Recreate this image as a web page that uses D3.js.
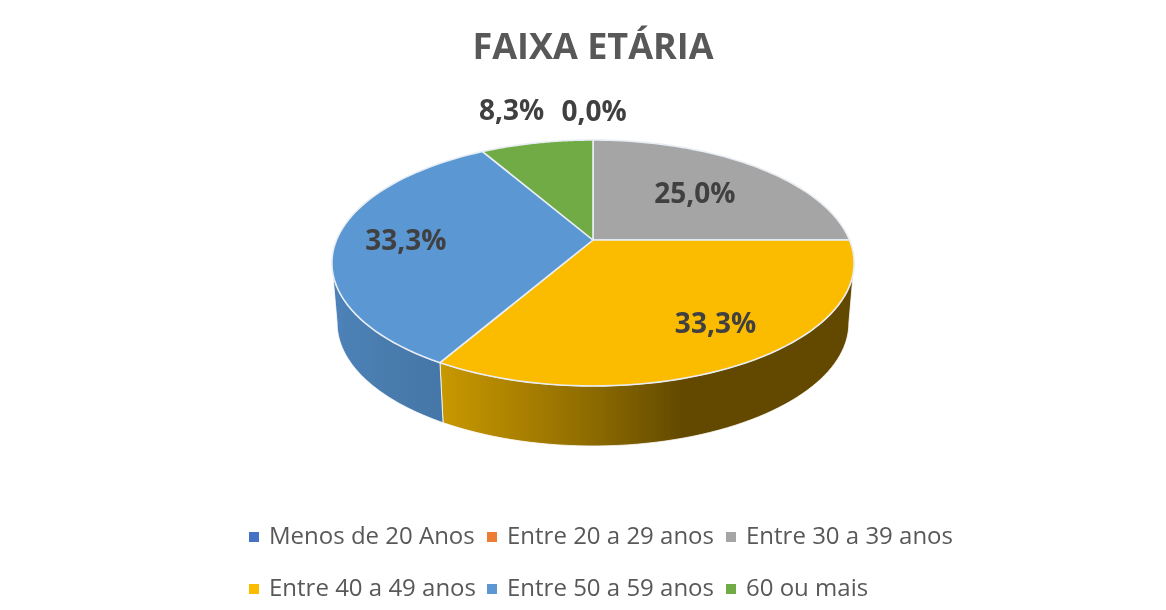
<!DOCTYPE html>
<html>
<head>
<meta charset="utf-8">
<script src="https://cdnjs.cloudflare.com/ajax/libs/d3/7.8.5/d3.min.js"></script>
<style>
  html, body { margin: 0; padding: 0; background: #fff; }
  svg { display: block; }
  text { font-family: "Open Sans", "Noto Sans", sans-serif; }
</style>
</head>
<body>
<div id="chart"></div>
<script>
var title = "FAIXA ETÁRIA";
var categories = ["Menos de 20 Anos", "Entre 20 a 29 anos", "Entre 30 a 39 anos",
                  "Entre 40 a 49 anos", "Entre 50 a 59 anos", "60 ou mais"];
var values = [0, 0, 3, 4, 4, 1];
var valueLabels = ["", "0,0%", "25,0%", "33,3%", "33,3%", "8,3%"];
var colors = ["#4472c4", "#ed7d31", "#a5a5a5", "#fbbc00", "#5a97d3", "#70ab45"];

var w = 1166, h = 610;
var cx = 593, cy = 240;
// tilted disc: horizontal radius, vertical radius, perspective strength
var rx = 256.5, ry = 118.7, persp = 0.187;
var depth = 60;

var svg = d3.select("#chart").append("svg").attr("width", w).attr("height", h);
var defs = svg.append("defs");

// the picture is slightly soft
defs.append("filter").attr("id", "soft")
    .append("feGaussianBlur").attr("stdDeviation", 0.7);

function sideGradient(id, stops) {
    var g = defs.append("linearGradient").attr("id", id)
        .attr("gradientUnits", "userSpaceOnUse")
        .attr("x1", 333).attr("x2", 854).attr("y1", 0).attr("y2", 0);
    stops.forEach(function(s) {
        g.append("stop").attr("offset", s[0]).attr("stop-color", s[1]);
    });
}
sideGradient("sideYellow", [[0.21, "#c89800"], [0.49, "#8f6c00"], [0.67, "#634a00"], [1, "#634a00"]]);
sideGradient("sideBlue", [[0, "#4d82b8"], [0.1, "#4a7cae"], [0.21, "#4476a8"]]);

var pie = d3.pie().value(function(d) { return d; }).sort(null);
var arcs = pie(values);

// angle is clockwise from the top, r is a fraction of the radius
function project(angle, r, drop, shrink) {
    var u = Math.sin(angle) * r, v = -Math.cos(angle) * r;
    var k = 1 - persp * v;
    return [cx + rx * (shrink || 1) * u / k, cy + ry * v / k + (drop || 0)];
}

var line = d3.line();

function rimPoints(a0, a1, r, drop, shrink) {
    return d3.range(0, 61).map(function(i) {
        return project(a0 + (a1 - a0) * i / 60, r, drop, shrink);
    });
}

var pieG = svg.append("g").attr("filter", "url(#soft)");

// side wall starts where the disc is widest on screen
var rimShrink = 0.98;
var widest = Math.asin(persp);
var sides = [
    { a0: Math.PI / 2 + widest, a1: arcs[3].endAngle, fill: "url(#sideYellow)" },
    { a0: arcs[4].startAngle, a1: 3 * Math.PI / 2 - widest, fill: "url(#sideBlue)" }
];
pieG.selectAll("path.side").data(sides).enter().append("path")
    .attr("class", "side")
    .attr("fill", function(d) { return d.fill; })
    .attr("stroke", "#fff").attr("stroke-width", 0.8)
    .attr("d", function(d) {
        var top = rimPoints(d.a0, d.a1, 1);
        var bottom = rimPoints(d.a0, d.a1, 1, depth, rimShrink).reverse();
        return line(top.concat(bottom)) + "Z";
    });

// top face
pieG.selectAll("path.slice").data(arcs.filter(function(d) { return d.value > 0; }))
    .enter().append("path")
    .attr("class", "slice")
    .attr("fill", function(d) { return colors[d.index]; })
    .attr("stroke", "#e8eef4").attr("stroke-width", 1.6).attr("stroke-linejoin", "round")
    .attr("d", function(d) {
        return line([[cx, cy]].concat(rimPoints(d.startAngle, d.endAngle, 1))) + "Z";
    });

var textG = svg.append("g").attr("filter", "url(#soft)");

textG.append("text")
    .attr("x", cx).attr("y", 59)
    .attr("text-anchor", "middle")
    .attr("font-size", 36).attr("font-weight", 700).attr("fill", "#595959")
    .text(title);

// data labels, radius of each as a fraction of the pie radius, then a small nudge
var labelRadius = [0, 1.36, 0.6, 0.78, 0.73, 1.43];
var labelShift = [[0, 0], [1, 0], [1, 0], [8, -9], [0, 0], [-6, 0]];
textG.selectAll("text.value").data(arcs.filter(function(d) { return valueLabels[d.index]; }))
    .enter().append("text")
    .attr("class", "value")
    .attr("transform", function(d) {
        var mid = (d.startAngle + d.endAngle) / 2;
        var p = project(mid, labelRadius[d.index]);
        var s = labelShift[d.index];
        return "translate(" + (p[0] + s[0]) + "," + (p[1] + s[1] + 10) + ")";
    })
    .attr("text-anchor", "middle")
    .attr("font-size", 28).attr("font-weight", 700).attr("fill", "#404040")
    .text(function(d) { return valueLabels[d.index]; });

// legend, two rows of three
var legendCols = d3.scaleOrdinal().domain([0, 1, 2]).range([249, 487, 726]);
var legendRows = d3.scaleOrdinal().domain([0, 1]).range([536, 588]);
var legend = textG.selectAll("g.legend").data(categories).enter().append("g")
    .attr("class", "legend")
    .attr("transform", function(d, i) {
        return "translate(" + legendCols(i % 3) + "," + legendRows(Math.floor(i / 3)) + ")";
    });
legend.append("rect")
    .attr("x", 0).attr("y", -4).attr("width", 10).attr("height", 10)
    .attr("fill", function(d, i) { return colors[i]; });
legend.append("text")
    .attr("x", 20).attr("y", 8)
    .attr("font-size", 24).attr("fill", "#595959")
    .text(function(d) { return d; });
</script>
</body>
</html>
